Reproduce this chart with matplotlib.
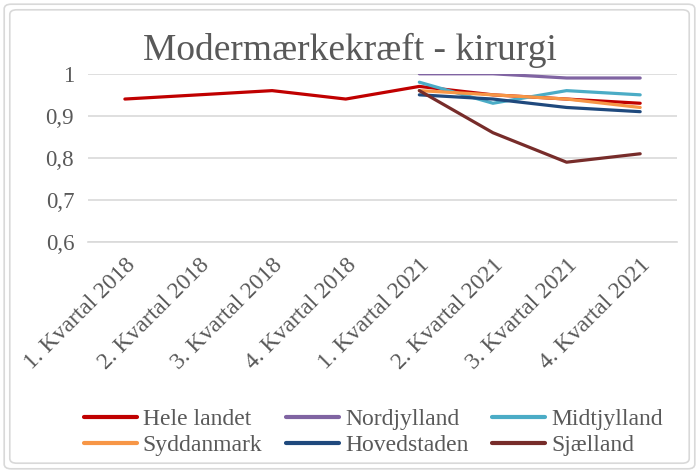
import matplotlib.pyplot as plt
import numpy as np
from matplotlib.patches import FancyBboxPatch
from matplotlib import font_manager

installed = {f.name for f in font_manager.fontManager.ttflist}
serifs = [f for f in ['Liberation Serif', 'Times New Roman', 'Noto Serif', 'DejaVu Serif'] if f in installed]
plt.rcParams['font.family'] = serifs + ['DejaVu Sans']

# data
quarters = ["1. Kvartal 2018", "2. Kvartal 2018", "3. Kvartal 2018", "4. Kvartal 2018",
            "1. Kvartal 2021", "2. Kvartal 2021", "3. Kvartal 2021", "4. Kvartal 2021"]
hele_landet = [0.94, 0.95, 0.96, 0.94, 0.97, 0.95, 0.94, 0.93]
nordjylland = [None, None, None, None, 1.00, 1.00, 0.99, 0.99]
midtjylland = [None, None, None, None, 0.98, 0.93, 0.96, 0.95]
syddanmark = [None, None, None, None, 0.96, 0.95, 0.94, 0.92]
hovedstaden = [None, None, None, None, 0.95, 0.94, 0.92, 0.91]
sjaelland = [None, None, None, None, 0.96, 0.86, 0.79, 0.81]

series = [
	("Hele landet", hele_landet, "#C00000"),
	("Nordjylland", nordjylland, "#8064A2"),
	("Midtjylland", midtjylland, "#4BACC6"),
	("Syddanmark", syddanmark, "#F79646"),
	("Hovedstaden", hovedstaden, "#1F497D"),
	("Sjælland", sjaelland, "#772C2A"),
]
text_col = "#595959"

fig = plt.figure(figsize=(6.99, 4.73), dpi=100)
ax = fig.add_axes([0.126, 0.488, 0.8425, 0.356])

x = np.arange(len(quarters))
for name, vals, col in series:
	y = np.array([np.nan if v is None else v for v in vals], dtype=float)
	ax.plot(x, y, color=col, lw=2.3, label=name, solid_capstyle='round')

ax.set_xlim(-0.5, len(quarters) - 0.5)
ax.set_ylim(0.6, 1.0)
ax.set_yticks([0.6, 0.7, 0.8, 0.9, 1.0])
ax.set_yticklabels(["0,6", "0,7", "0,8", "0,9", "1"])
ax.set_xticks(x)
ax.set_xticklabels(quarters, rotation=45, ha='right', rotation_mode='anchor')
ax.tick_params(length=0, labelsize=16.5, colors=text_col, pad=10)
ax.tick_params(axis='x', labelsize=17, pad=9)
ax.grid(axis='y', color='#D9D9D9', lw=1.2)
ax.set_axisbelow(True)
for s in ax.spines.values():
	s.set_visible(False)
ax.spines['bottom'].set_visible(True)
ax.spines['bottom'].set_color('#D9D9D9')
ax.spines['bottom'].set_linewidth(1.2)

fig.text(0.5, 0.893, "Modermærkekræft - kirurgi", ha='center', va='center',
	fontsize=27, color=text_col)

# legend filled row by row like the original
handles, labels = ax.get_legend_handles_labels()
order = [0, 3, 1, 4, 2, 5]
leg = fig.legend([handles[i] for i in order], [labels[i] for i in order],
	loc='center', bbox_to_anchor=(0.534, 0.086), ncol=3, frameon=False,
	fontsize=17, handlelength=2.25, handletextpad=0.25, columnspacing=1.0,
	labelspacing=0.2)
for t in leg.get_texts():
	t.set_color(text_col)
for h in leg.get_lines():
	h.set_linewidth(3)

# chart border
for inset in (0.006, 0.014):
	fig.patches.append(FancyBboxPatch((inset, inset * 1.48), 1 - 2 * inset, 1 - 2 * inset * 1.48,
		boxstyle="round,pad=0,rounding_size=0.01", transform=fig.transFigure,
		fill=False, edgecolor='#D9D9D9', lw=1.2))

fig.savefig("out.png", dpi=100)
